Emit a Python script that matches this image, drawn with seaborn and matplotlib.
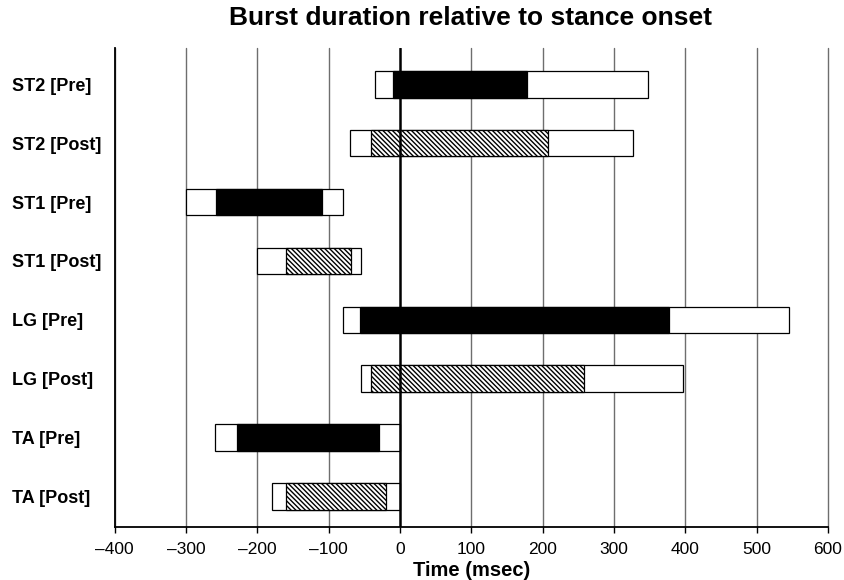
import matplotlib
matplotlib.use("Agg")
import matplotlib.pyplot as plt
import seaborn as sns
import pandas as pd
import numpy as np

categories = ["ST2 [Pre]", "ST2 [Post]", "ST1 [Pre]", "ST1 [Post]",
              "LG [Pre]", "LG [Post]", "TA [Pre]", "TA [Post]"]
outer_start = [-35, -70, -300, -200, -80, -55, -260, -180]
outer_end = [347, 327, -80, -55, 545, 397, 0, 0]
inner_start = [-10, -41, -258, -160, -56, -41, -229, -160]
inner_end = [178, 208, -109, -69, 377, 258, -29, -20]
phase = ["Pre", "Post", "Pre", "Post", "Pre", "Post", "Pre", "Post"]
x_ticks = [-400, -300, -200, -100, 0, 100, 200, 300, 400, 500, 600]

sns.set_theme(style="white")
plt.rcParams['font.family'] = ['Liberation Sans', 'DejaVu Sans']
plt.rcParams['hatch.linewidth'] = 1.0
plt.rcParams['text.color'] = 'black'
plt.rcParams['xtick.color'] = 'black'
plt.rcParams['ytick.color'] = 'black'
plt.rcParams['axes.labelcolor'] = 'black'

df = pd.DataFrame({
    "cat": categories,
    "outer_w": np.array(outer_end) - np.array(outer_start),
    "outer_s": outer_start,
    "inner_w": np.array(inner_end) - np.array(inner_start),
    "inner_s": inner_start,
    "phase": phase,
})

fig = plt.figure(figsize=(8.44, 5.8), dpi=100)
ax = fig.add_axes([0.136, 0.0914, 0.845, 0.826])

for x in x_ticks:
    if x == 0:
        continue
    ax.axvline(x, color="#6e6e6e", lw=1.0, zorder=0, clip_on=False)

sns.barplot(data=df, x="outer_w", y="cat", order=categories, orient="h",
            left=df["outer_s"].values, color="white", edgecolor="black",
            linewidth=0.9, width=0.45, saturation=1, ax=ax, zorder=2)

sns.barplot(data=df, x="inner_w", y="cat", order=categories, orient="h",
            left=df["inner_s"].values, color="white", edgecolor="black",
            linewidth=0.9, width=0.45, saturation=1, ax=ax, zorder=3)

pre = df["phase"] == "Pre"
inner_bars = ax.patches[len(categories):]
for bar, is_pre in zip(inner_bars, pre):
    if is_pre:
        bar.set_facecolor("black")
    else:
        bar.set_facecolor("white")
        bar.set_hatch("\\" * 7)

ax.axvline(0, color="black", lw=1.8, zorder=4)

ax.set_xlim(-400, 600)
ax.set_ylim(7.52, -0.62)
ax.set_xticks(x_ticks)
ax.set_xticklabels([f"{t}".replace("-", "\u2013") for t in x_ticks], fontsize=12.5)
ax.tick_params(axis="x", length=4, width=1.0, direction="out", pad=7, bottom=True)
ax.tick_params(axis="y", length=0, pad=74)
for lab in ax.get_yticklabels():
    lab.set_fontweight("bold")
    lab.set_fontsize(13)
    lab.set_horizontalalignment("left")
ax.set_ylabel("")
ax.set_xlabel("Time (msec)", fontsize=14.5, fontweight="bold", labelpad=3)

for s in ["top", "right"]:
    ax.spines[s].set_visible(False)
for s in ["left", "bottom"]:
    ax.spines[s].set_color("black")
    ax.spines[s].set_linewidth(1.3)

fig.suptitle("Burst duration relative to stance onset", fontsize=19,
             fontweight="bold", x=0.558, y=0.99)

fig.savefig("out.png", dpi=100)
